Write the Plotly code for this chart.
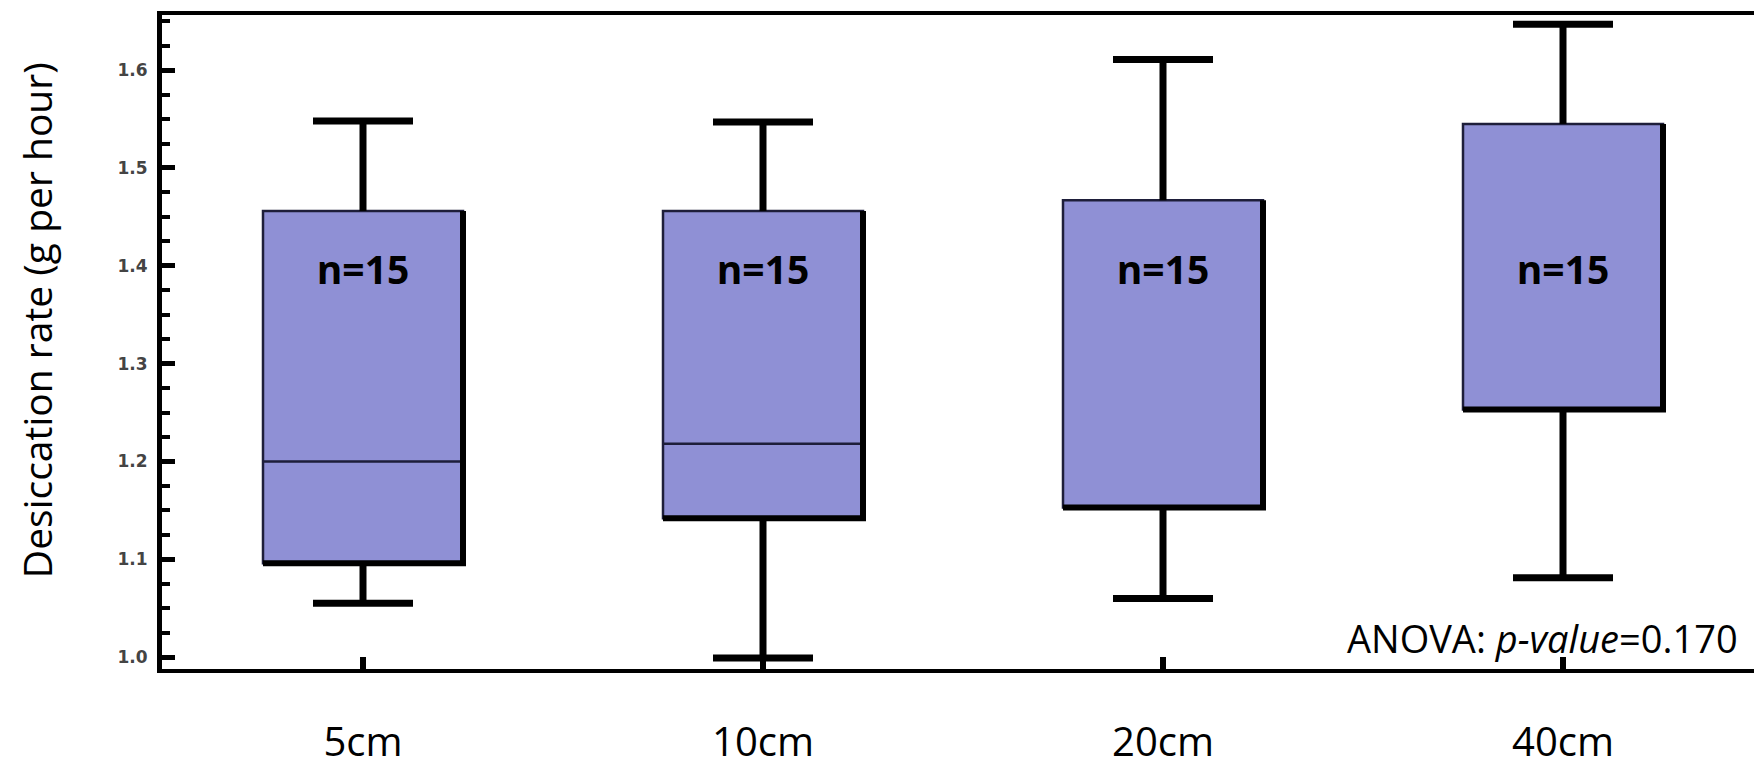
import plotly.graph_objects as go

# ---- data ----
categories = ["5cm", "10cm", "20cm", "40cm"]
lower_whisker = [1.055, 0.999, 1.060, 1.081]
q1 = [1.096, 1.142, 1.153, 1.253]
median = [1.200, 1.218, 1.153, 1.253]
q3 = [1.456, 1.456, 1.467, 1.545]
upper_whisker = [1.548, 1.547, 1.611, 1.647]
n_labels = ["n=15", "n=15", "n=15", "n=15"]
n_label_y = 1.391
y_tick_vals = [1.0, 1.1, 1.2, 1.3, 1.4, 1.5, 1.6]
y_tick_text = ["1.0", "1.1", "1.2", "1.3", "1.4", "1.5", "1.6"]
anova_text = "ANOVA: <i>p-value</i>=0.170"

FILL = "#8F90D5"
BOX_HALF = 0.25
CAP_HALF = 0.125
xpos = list(range(len(categories)))

fig = go.Figure()

fig.add_trace(go.Box(
    x=xpos, q1=q1, median=median, q3=q3,
    lowerfence=lower_whisker, upperfence=upper_whisker,
    width=2 * BOX_HALF, whiskerwidth=0.5,
    fillcolor=FILL, line=dict(color="#1e1e3a", width=2.5),
    boxpoints=False, hoverinfo="skip",
))

# thick whiskers and caps
wx, wy = [], []
for i in xpos:
    wx += [i, i, None, i - CAP_HALF, i + CAP_HALF, None,
           i, i, None, i - CAP_HALF, i + CAP_HALF, None]
    wy += [q3[i], upper_whisker[i], None, upper_whisker[i], upper_whisker[i], None,
           q1[i], lower_whisker[i], None, lower_whisker[i], lower_whisker[i], None]
fig.add_trace(go.Scatter(x=wx, y=wy, mode="lines",
                         line=dict(color="black", width=7),
                         hoverinfo="skip"))

# shadow-like thick right and bottom box edges
sx, sy = [], []
for i in xpos:
    sx += [i + BOX_HALF, i + BOX_HALF, i - BOX_HALF, None]
    sy += [q3[i], q1[i], q1[i], None]
fig.add_trace(go.Scatter(x=sx, y=sy, mode="lines",
                         line=dict(color="black", width=6),
                         hoverinfo="skip"))

# n labels
fig.add_trace(go.Scatter(
    x=xpos, y=[n_label_y] * len(xpos), mode="text", text=n_labels,
    textfont=dict(family="Open Sans", size=39, color="black", weight=700),
    hoverinfo="skip",
))

# plot area in window pixels: x 162..1755, y 11..669 (page body has an 8px margin)
PL, PR, PT, PB = 162, 1755, 11, 669
PW, PH = PR - PL, PB - PT

fig.add_annotation(
    text=anova_text, xref="paper", yref="paper", x=(1740 - PL) / PW, y=(PB - 638) / PH,
    xanchor="right", yanchor="middle", showarrow=False,
    font=dict(family="Open Sans", size=38, color="black"),
)

fig.add_annotation(
    text="Desiccation rate (g per hour)", xref="paper", yref="paper",
    x=(36 - PL) / PW, y=(PB - 318) / PH, xanchor="center", yanchor="middle",
    textangle=-90, showarrow=False,
    font=dict(family="Open Sans", size=39, color="black"),
)

fig.update_layout(
    width=1762, height=770,
    margin=dict(l=PL - 8, r=1762 - (PR - 8), t=PT - 8, b=770 - (PB - 8)),
    plot_bgcolor="white", paper_bgcolor="white",
    showlegend=False,
    xaxis=dict(
        range=[-0.5025, 3.48], tickvals=xpos, ticktext=categories,
        ticks="inside", ticklen=12, tickwidth=6, tickcolor="black",
        showline=True, linewidth=4, linecolor="black", mirror=True,
        showgrid=False, zeroline=False,
        tickfont=dict(family="Open Sans", size=40, color="black"),
        ticklabelstandoff=35,
    ),
    yaxis=dict(
        range=[0.9878, 1.6564], tickvals=y_tick_vals, ticktext=y_tick_text,
        ticks="inside", ticklen=13, tickwidth=5, tickcolor="black",
        minor=dict(ticks="inside", ticklen=8, tickwidth=4, tickcolor="black",
                   tick0=1.0, dtick=0.025),
        showline=True, linewidth=5, linecolor="black", mirror=True,
        showgrid=False, zeroline=False,
        tickfont=dict(family="DejaVu Sans", size=17, color="#444444", weight=700),
        ticklabelstandoff=6,
    ),
)

fig.write_html("out.html")
